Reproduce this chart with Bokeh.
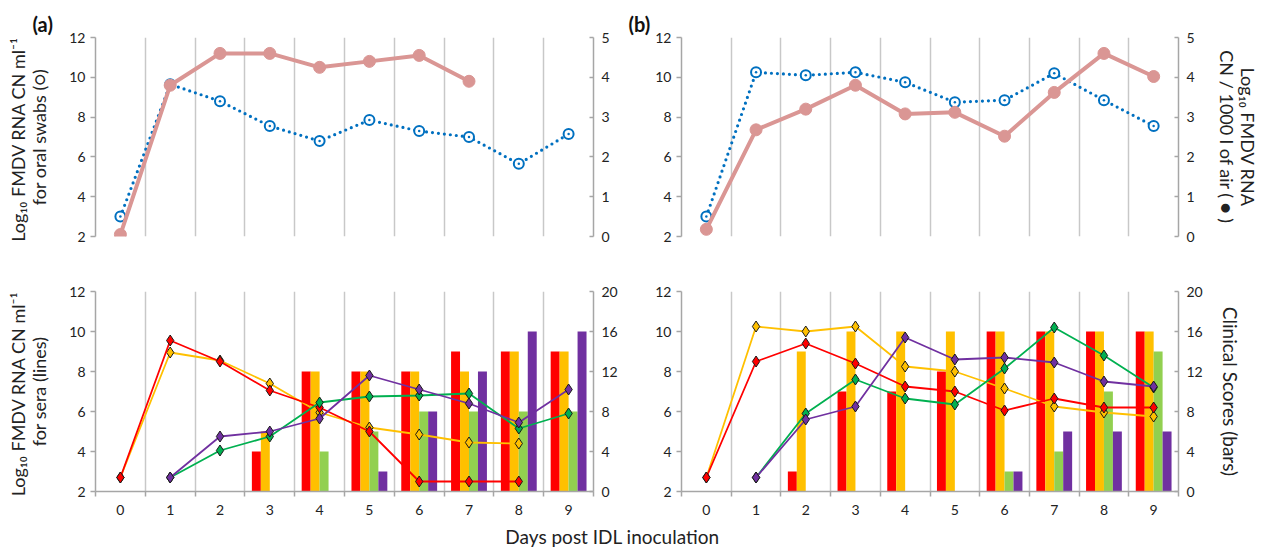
import numpy as np
from bokeh.plotting import figure
from bokeh.models import Range1d, LinearAxis, FixedTicker
from bokeh.layouts import column, row
from bokeh.embed import file_html
from bokeh.resources import INLINE
from bokeh.core.properties import value

# ---------------- data ----------------
days = [0, 1, 2, 3, 4, 5, 6, 7, 8, 9]
left_ticks = [2, 4, 6, 8, 10, 12]
air_ticks = [0, 1, 2, 3, 4, 5]
score_ticks = [0, 4, 8, 12, 16, 20]

# (a) top: oral swabs (left axis) and air (right axis)
a_oral = [3.0, 9.65, 8.8, 7.55, 6.8, 7.85, 7.3, 7.0, 5.65, 7.15]
a_air = [0.05, 3.8, 4.6, 4.6, 4.25, 4.4, 4.55, 3.9, None, None]
# (b) top
b_oral = [3.0, 10.25, 10.1, 10.25, 9.75, 8.75, 8.85, 10.2, 8.85, 7.55]
b_air = [0.18, 2.68, 3.2, 3.8, 3.08, 3.12, 2.52, 3.62, 4.6, 4.02]

# (a) bottom: sera lines (left axis)
a_sera_red = [2.7, 9.55, 8.5, 7.05, 6.2, 5.0, 2.5, 2.5, 2.5, None]
a_sera_orange = [2.7, 8.95, 8.55, 7.4, 5.95, 5.2, 4.85, 4.45, 4.4, None]
a_sera_green = [None, 2.7, 4.05, 4.75, 6.45, 6.75, 6.8, 6.9, 5.15, 5.9]
a_sera_purple = [None, 2.7, 4.75, 5.0, 5.65, 7.8, 7.1, 6.4, 5.45, 7.1]
# (a) bottom: clinical score bars (right axis)
a_score_red = [0, 0, 0, 4, 12, 12, 12, 14, 14, 14]
a_score_orange = [0, 0, 0, 6, 12, 12, 12, 12, 14, 14]
a_score_green = [0, 0, 0, 0, 4, 6, 8, 8, 8, 8]
a_score_purple = [0, 0, 0, 0, 0, 2, 8, 12, 16, 16]

# (b) bottom
b_sera_red = [2.7, 8.5, 9.4, 8.4, 7.25, 7.0, 6.05, 6.65, 6.2, 6.2]
b_sera_orange = [2.7, 10.25, 10.0, 10.25, 8.25, 8.0, 7.15, 6.25, 5.95, 5.75]
b_sera_green = [None, 2.7, 5.9, 7.6, 6.65, 6.35, 8.15, 10.2, 8.8, 7.2]
b_sera_purple = [None, 2.7, 5.6, 6.25, 9.7, 8.6, 8.7, 8.45, 7.5, 7.25]
b_score_red = [0, 0, 2, 10, 10, 12, 16, 16, 16, 16]
b_score_orange = [0, 0, 14, 16, 16, 16, 16, 16, 16, 16]
b_score_green = [0, 0, 0, 0, 0, 0, 2, 4, 10, 14]
b_score_purple = [0, 0, 0, 0, 0, 0, 2, 6, 6, 6]

# ---------------- styling ----------------
FONT = "Lato"
AXIS_GRAY = "#A6A6A6"
GRID_GRAY = "#C8C8C8"
TXT = "#222222"
BLUE = "#0070C0"
PINK = "#DA9694"
LINE_COLORS = {"red": "#FF0000", "orange": "#FFC000", "green": "#00B050", "purple": "#7030A0"}
BAR_COLORS = {"red": "#FF0000", "orange": "#FFC000", "green": "#92D050", "purple": "#7030A0"}
boundaries = [d + 0.5 for d in [-1] + days]


def arr(lst):
    return np.array([np.nan if v is None else v for v in lst], dtype=float)


def style_axis(ax):
    ax.axis_line_color = AXIS_GRAY
    ax.axis_line_width = 1.5
    ax.major_tick_line_color = AXIS_GRAY
    ax.major_tick_line_width = 1.5
    ax.minor_tick_line_color = AXIS_GRAY
    ax.minor_tick_line_width = 1.5
    ax.major_label_text_font = FONT
    ax.major_label_text_font_size = "14px"
    ax.major_label_text_color = TXT
    ax.axis_label_text_font = FONT
    ax.axis_label_text_font_size = "18px"
    ax.axis_label_text_font_style = "normal"
    ax.axis_label_text_color = TXT
    ax.axis_label_text_line_height = 0.95


def make_fig(width, height, left, right, top, bottom, right_range, right_ticks,
             bottom_axis, title=None, title_offset=0):
    p = figure(width=width, height=height, x_range=Range1d(-0.5, 9.5), y_range=Range1d(2, 12),
               output_backend="svg", toolbar_location=None,
               min_border_left=left, min_border_right=right,
               min_border_top=top, min_border_bottom=bottom,
               x_axis_location="below" if bottom_axis else None)
    p.outline_line_color = None
    p.background_fill_color = "white"
    p.border_fill_color = "white"
    p.ygrid.grid_line_color = None
    p.xgrid.ticker = FixedTicker(ticks=days, minor_ticks=boundaries)
    p.xgrid.grid_line_color = None
    p.xgrid.minor_grid_line_color = GRID_GRAY
    p.xgrid.minor_grid_line_width = 1.5
    yax = p.yaxis[0]
    yax.ticker = FixedTicker(ticks=left_ticks)
    style_axis(yax)
    yax.major_tick_out = 5
    yax.major_tick_in = 0
    yax.axis_label_standoff = 16
    if bottom_axis:
        xax = p.xaxis[0]
        xax.ticker = FixedTicker(ticks=days, minor_ticks=boundaries)
        style_axis(xax)
        xax.major_tick_out = 0
        xax.major_tick_in = 0
        xax.minor_tick_out = 5
        xax.minor_tick_in = 0
        xax.major_label_standoff = 8
    p.extra_y_ranges = {"r": Range1d(*right_range)}
    rax = LinearAxis(y_range_name="r", ticker=FixedTicker(ticks=right_ticks))
    style_axis(rax)
    rax.major_tick_out = 0
    rax.major_tick_in = 4
    rax.major_label_standoff = 8
    p.add_layout(rax, "right")
    if title is not None:
        p.title.text = title
        p.title.align = "left"
        p.title.offset = title_offset
        p.title.text_font = FONT
        p.title.text_font_size = "20px"
        p.title.text_font_style = "bold"
        p.title.text_color = "#111111"
        p.title.standoff = 4
    return p, rax


def draw_top(p, oral, air):
    x = np.array(days, dtype=float)
    p.line(x, arr(oral), line_color=BLUE, line_width=3.2, line_dash="0 6", line_cap="round")
    p.scatter(x, arr(oral), marker="circle_dot", size=10, line_color=BLUE, line_width=2,
              fill_color="white")
    p.line(x, arr(air), line_color=PINK, line_width=4, y_range_name="r")
    p.scatter(x, arr(air), marker="circle", size=12, line_color=PINK, fill_color=PINK,
              y_range_name="r")


def draw_bottom(p, sera, scores):
    x = np.array(days, dtype=float)
    bw = 0.18
    offsets = {"red": -0.27, "orange": -0.09, "green": 0.09, "purple": 0.27}
    for key in ["red", "orange", "green", "purple"]:
        p.vbar(x=x + offsets[key], top=arr(scores[key]), bottom=0, width=bw,
               fill_color=BAR_COLORS[key], line_color=None, y_range_name="r")
    for key in ["orange", "red", "green", "purple"]:
        y = arr(sera[key])
        p.line(x, y, line_color=LINE_COLORS[key], line_width=1.8)
        p.scatter(x, y, marker="diamond", size=11, fill_color=LINE_COLORS[key],
                  line_color="#1a1a1a", line_width=1)


# ---------------- figures ----------------
LW, RW = 623, 638
TOP_H, BOT_H = 255, 266

ta, ta_r = make_fig(LW, TOP_H, 95, 30, 37, 19, (0, 5), air_ticks, False, "(a)", -63)
ta.yaxis[0].axis_label = "Log\u2081\u2080 FMDV  RNA CN ml\u207b\u00b9\nfor oral swabs (\u25cb)"
draw_top(ta, a_oral, a_air)

tb, tb_r = make_fig(RW, TOP_H, 58, 83, 37, 19, (0, 5), air_ticks, False, "(b)", -53)
tb_r.axis_label = "Log\u2081\u2080 FMDV RNA\nCN / 1000 l of air ( \u25cf )"
tb_r.axis_label_standoff = 18
draw_top(tb, b_oral, b_air)

ba, ba_r = make_fig(LW, BOT_H, 95, 30, 36, 30, (0, 20), score_ticks, True)
ba.yaxis[0].axis_label = "Log\u2081\u2080 FMDV  RNA CN ml\u207b\u00b9\nfor sera (lines)"
draw_bottom(ba,
            {"red": a_sera_red, "orange": a_sera_orange, "green": a_sera_green, "purple": a_sera_purple},
            {"red": a_score_red, "orange": a_score_orange, "green": a_score_green, "purple": a_score_purple})

bb, bb_r = make_fig(RW, BOT_H, 58, 83, 36, 30, (0, 20), score_ticks, True)
bb_r.axis_label = "Clinical Scores (bars)"
bb_r.axis_label_text_font_size = "19px"
bb_r.axis_label_standoff = 13
draw_bottom(bb,
            {"red": b_sera_red, "orange": b_sera_orange, "green": b_sera_green, "purple": b_sera_purple},
            {"red": b_score_red, "orange": b_score_orange, "green": b_score_green, "purple": b_score_purple})

# shared x-axis label strip
strip = figure(width=LW + RW, height=27, x_range=Range1d(0, LW + RW), y_range=Range1d(0, 27),
               output_backend="svg", toolbar_location=None, min_border=0,
               x_axis_location=None, y_axis_location=None)
strip.outline_line_color = None
strip.grid.visible = False
strip.text(x=[612], y=[12], text=["Days post IDL inoculation"], text_align="center",
           text_baseline="middle", text_font=value(FONT), text_font_size="19px",
           text_color=TXT)

layout = column(row(ta, tb), row(ba, bb), strip)
open("out.html", "w").write(file_html(layout, INLINE))
